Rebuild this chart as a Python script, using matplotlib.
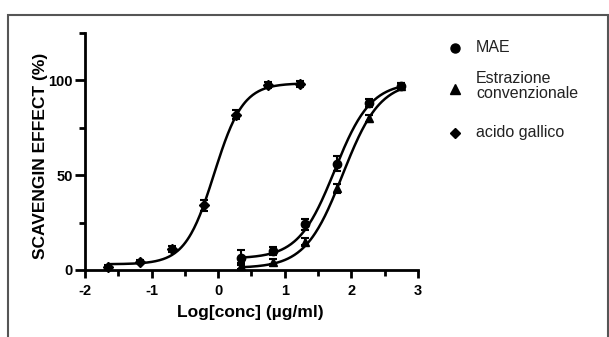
import numpy as np
import matplotlib
matplotlib.use("Agg")
import matplotlib.pyplot as plt
from matplotlib.patches import Rectangle
from matplotlib.lines import Line2D

plt.rcParams['font.family'] = ['Liberation Sans', 'DejaVu Sans']
plt.rcParams['axes.unicode_minus'] = False

# data
x_gallic = [-1.65, -1.17, -0.69, -0.21, 0.27, 0.75, 1.23]
y_gallic = [1.7, 4.4, 11, 34, 82, 97.5, 98]
e_gallic = [1, 1, 1.5, 3, 2.5, 1.5, 1.5]

x_ext = [0.35, 0.83, 1.31, 1.79, 2.27, 2.75]
y_mae = [6.5, 10, 24, 56, 88, 97]
e_mae = [4, 2, 3, 4, 2, 1.5]
y_conv = [2, 4.4, 15, 43, 80, 97]
e_conv = [1.5, 1.5, 2, 2.5, 2, 1.5]

# fitted sigmoid parameters (bottom, top, logEC50, hill)
fit_gallic = (3.0, 98.5, -0.06, 2.0)
fit_mae = (6.0, 99.0, 1.75, 1.6)
fit_conv = (1.0, 99.5, 1.87, 1.55)

labels = ["MAE", "Estrazione\nconvenzionale", "acido gallico"]
markers = ['o', '^', 'D']

def sigmoid(x, p):
    b, t, ec, h = p
    return b + (t - b) / (1 + 10 ** ((ec - x) * h))

fig = plt.figure(figsize=(6.09, 3.37), dpi=100)
fig.patches.append(Rectangle((0.013, -0.2), 0.985, 1.155, transform=fig.transFigure,
                             fill=False, edgecolor='#555555', linewidth=1.5))
ax = fig.add_axes([0.1396, 0.199, 0.5465, 0.703])

xs_g = np.linspace(x_gallic[0], x_gallic[-1], 200)
xs_e = np.linspace(x_ext[0], x_ext[-1], 200)
ax.plot(xs_g, sigmoid(xs_g, fit_gallic), color='black', lw=1.8, clip_on=False)
ax.plot(xs_e, sigmoid(xs_e, fit_mae), color='black', lw=1.8, clip_on=False)
ax.plot(xs_e, sigmoid(xs_e, fit_conv), color='black', lw=1.8, clip_on=False)

for x, y, e, m, ms in [(x_ext, y_mae, e_mae, 'o', 6),
                       (x_ext, y_conv, e_conv, '^', 6),
                       (x_gallic, y_gallic, e_gallic, 'D', 5.5)]:
    ax.errorbar(x, y, yerr=e, fmt=m, color='black', ms=ms, capsize=3,
                elinewidth=1.5, capthick=1.5, clip_on=False)

ax.set_xlim(-2, 3)
ax.set_ylim(0, 125)
ax.spines['top'].set_visible(False)
ax.spines['right'].set_visible(False)
for s in ['left', 'bottom']:
    ax.spines[s].set_linewidth(2)
ax.set_xticks([-2, -1, 0, 1, 2, 3])
ax.set_xticks([-1.5, -0.5, 0.5, 1.5, 2.5], minor=True)
ax.set_yticks([0, 50, 100])
ax.set_yticks([25, 75, 125], minor=True)
ax.tick_params(axis='y', which='major', length=7, width=2, labelsize=10.5, pad=2)
ax.tick_params(axis='x', which='major', length=6, width=2, labelsize=10.5, pad=4)
ax.tick_params(which='minor', length=4, width=2)
for lab in ax.get_xticklabels() + ax.get_yticklabels():
    lab.set_fontweight('bold')
ax.set_xlabel("Log[conc] (µg/ml)", fontsize=12.5, fontweight='bold')
ax.xaxis.set_label_coords(0.497, -0.15)
ax.set_ylabel("SCAVENGIN EFFECT (%)", fontsize=12.5, fontweight='bold')
ax.yaxis.set_label_coords(-0.112, 0.48)

# legend (manual layout)
leg_y = [48, 86, 133]
mk_y = [48, 89, 133]
for lab, m, ty, my in zip(labels, markers, leg_y, mk_y):
    fig.add_artist(Line2D([455 / 609], [1 - my / 337], transform=fig.transFigure,
                          ls='none', marker=m, color='black',
                          ms=6.5 if m != 'D' else 5.5))
    fig.text(476 / 609, 1 - ty / 337, lab, fontsize=11.5, color='#222222',
             va='center', ha='left', linespacing=1.05)

fig.savefig("out.png", dpi=100)
